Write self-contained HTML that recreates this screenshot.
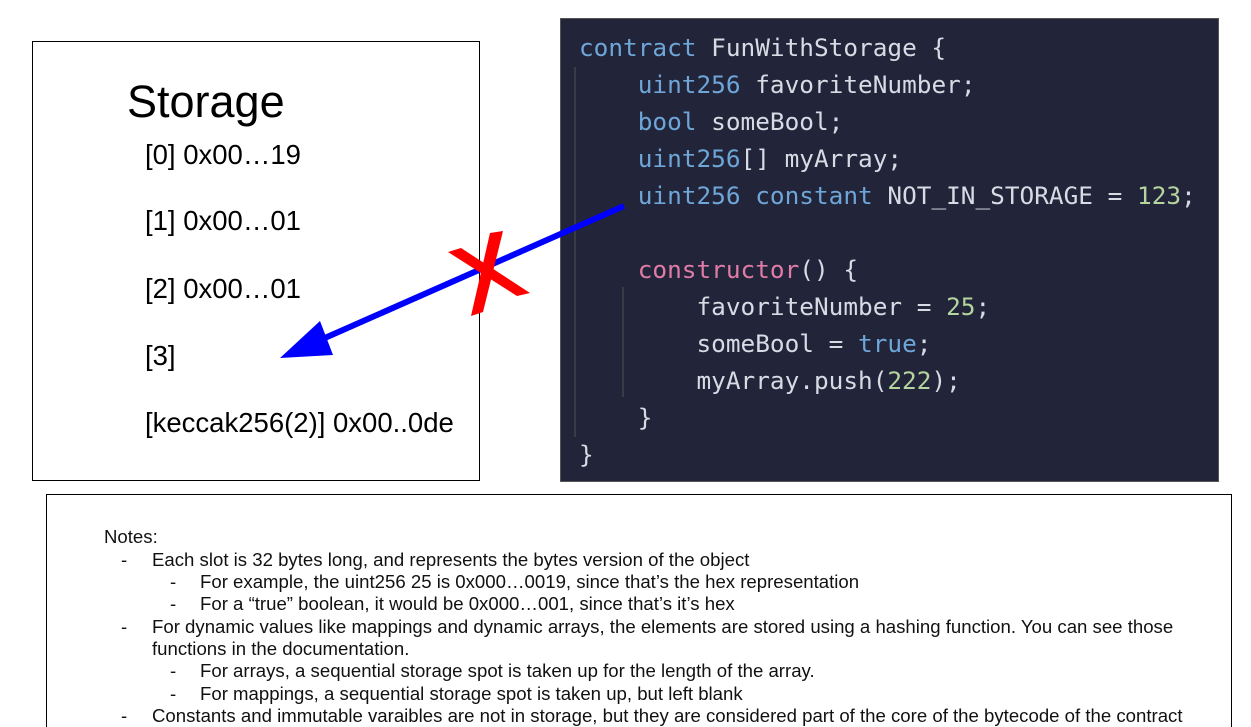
<!DOCTYPE html>
<html><head><meta charset="utf-8"><style>
html,body{margin:0;width:1251px;height:727px;overflow:hidden}
body{background:#fff;position:relative;font-family:"Liberation Sans",Arial,sans-serif}
.a{position:absolute;white-space:pre}
#code{position:absolute;left:560px;top:18px;width:657px;height:462px;background:#22243a;border:1px solid #555}
.c{position:absolute;left:18px;font-family:"DejaVu Sans Mono","Liberation Mono",monospace;font-size:24.4px;color:#d8dbe4;white-space:pre;line-height:30px}
.k{color:#6ea6d8}.p{color:#e07ca6}.n{color:#b6d49e}
.st{position:absolute;left:145px;font-size:27.5px;color:#000;white-space:pre}
.nt{position:absolute;font-size:18.6px;color:#111;white-space:pre;line-height:20px}
</style></head><body>
<div class="a" style="left:32px;top:41px;width:446px;height:438px;border:1px solid #000"></div>
<div class="a" style="left:127px;top:76px;font-size:45px">Storage</div>
<div class="st" style="top:139px">[0] 0x00…19</div>
<div class="st" style="top:205px">[1] 0x00…01</div>
<div class="st" style="top:273px">[2] 0x00…01</div>
<div class="st" style="top:340px">[3]</div>
<div class="st" style="top:407px">[keccak256(2)] 0x00..0de</div>
<div id="code">
<div style="position:absolute;left:13px;top:48px;width:2px;height:370px;background:#3a3b45"></div>
<div style="position:absolute;left:61px;top:268px;width:2px;height:110px;background:#3a3b45"></div>
<div class="c" style="top:14px"><span class="k">contract</span> FunWithStorage {</div>
<div class="c" style="top:51px">    <span class="k">uint256</span> favoriteNumber;</div>
<div class="c" style="top:88px">    <span class="k">bool</span> someBool;</div>
<div class="c" style="top:125px">    <span class="k">uint256</span>[] myArray;</div>
<div class="c" style="top:162px">    <span class="k">uint256 constant</span> NOT_IN_STORAGE = <span class="n">123</span>;</div>
<div class="c" style="top:236px">    <span class="p">constructor</span>() {</div>
<div class="c" style="top:273px">        favoriteNumber = <span class="n">25</span>;</div>
<div class="c" style="top:310px">        someBool = <span class="k">true</span>;</div>
<div class="c" style="top:347px">        myArray.push(<span class="n">222</span>);</div>
<div class="c" style="top:384px">    }</div>
<div class="c" style="top:421px">}</div>
</div>
<svg class="a" style="left:0;top:0" width="1251" height="727">
<line x1="624" y1="206" x2="318" y2="341" stroke="#0000ff" stroke-width="6"/>
<polygon points="280,358 320,321 333,355" fill="#0000ff"/>
<polygon points="448,252 461,248 530,293 517,296" fill="#ff0000"/>
<polygon points="490,233 503,231 483,312 471,316" fill="#ff0000"/>
</svg>
<div class="a" style="left:46px;top:494px;width:1184px;height:240px;border:1px solid #000"></div>
<div class="nt" style="left:104px;top:527px">Notes:</div>
<div class="nt" style="left:121px;top:550px">-     </div><div class="nt" style="left:152px;top:550px">Each slot is 32 bytes long, and represents the bytes version of the object</div>
<div class="nt" style="left:170px;top:572px">-</div><div class="nt" style="left:200px;top:572px">For example, the uint256 25 is 0x000…0019, since that’s the hex representation</div>
<div class="nt" style="left:170px;top:594px">-</div><div class="nt" style="left:200px;top:594px">For a “true” boolean, it would be 0x000…001, since that’s it’s hex</div>
<div class="nt" style="left:121px;top:617px">-</div><div class="nt" style="left:152px;top:617px">For dynamic values like mappings and dynamic arrays, the elements are stored using a hashing function. You can see those</div>
<div class="nt" style="left:152px;top:639px">functions in the documentation.</div>
<div class="nt" style="left:170px;top:661px">-</div><div class="nt" style="left:200px;top:661px">For arrays, a sequential storage spot is taken up for the length of the array.</div>
<div class="nt" style="left:170px;top:684px">-</div><div class="nt" style="left:200px;top:684px">For mappings, a sequential storage spot is taken up, but left blank</div>
<div class="nt" style="left:121px;top:706px">-</div><div class="nt" style="left:152px;top:706px">Constants and immutable varaibles are not in storage, but they are considered part of the core of the bytecode of the contract</div>
</body></html>
